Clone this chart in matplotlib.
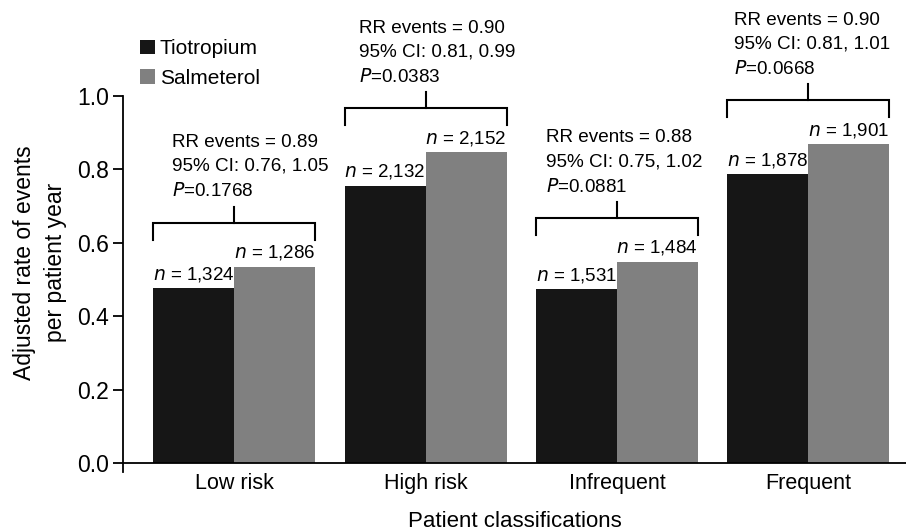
import matplotlib
matplotlib.use("Agg")
import matplotlib.pyplot as plt
import numpy as np

categories = ["Low risk", "High risk", "Infrequent", "Frequent"]
series_names = ["Tiotropium", "Salmeterol"]
tiotropium = [0.477, 0.756, 0.474, 0.787]
salmeterol = [0.535, 0.847, 0.548, 0.869]
n_tio = ["1,324", "2,132", "1,531", "1,878"]
n_sal = ["1,286", "2,152", "1,484", "1,901"]
rr = ["0.89", "0.90", "0.88", "0.90"]
ci = ["0.76, 1.05", "0.81, 0.99", "0.75, 1.02", "0.81, 1.01"]
pvals = ["0.1768", "0.0383", "0.0881", "0.0668"]
yticks = [0.0, 0.2, 0.4, 0.6, 0.8, 1.0]

# layout (not data)
text_dx = [-0.325, -0.35, -0.37, -0.39]

plt.rcParams['font.family'] = ['Liberation Sans', 'DejaVu Sans']
c_tio = "#161616"
c_sal = "#808080"

fig = plt.figure(figsize=(9.06, 5.31), dpi=100)
ax = fig.add_axes([0.136, 0.111, 0.864, 0.708])

x = np.arange(len(categories))
w = 0.423
b1 = ax.bar(x - w / 2, tiotropium, w, color=c_tio, label=series_names[0])
b2 = ax.bar(x + w / 2, salmeterol, w, color=c_sal, label=series_names[1])

ax.set_xlim(-0.58, 3.51)
ax.set_ylim(-0.025, 1.0)
ax.set_yticks(yticks)
ax.set_yticklabels([f"{v:.1f}" for v in yticks], fontsize=16.5)
ax.set_xticks(x)
ax.set_xticklabels(categories, fontsize=15.5)
ax.tick_params(axis='x', length=0, pad=1)
ax.tick_params(axis='y', length=7, width=1.3, direction='out', pad=3)
for s in ["top", "right", "bottom"]:
    ax.spines[s].set_visible(False)
ax.spines["left"].set_linewidth(1.3)
ax.axhline(0, color="black", lw=1.3, zorder=3)

ax.set_ylabel("Adjusted rate of events\nper patient year", fontsize=16.5,
              linespacing=1.42)
ax.yaxis.set_label_coords(-0.072, 0.558)
ax.set_xlabel("Patient classifications", fontsize=16)
ax.xaxis.set_label_coords(0.5, -0.103)

# n labels
for i in range(len(categories)):
    ax.text(x[i], tiotropium[i] + 0.012, f"$\\it{{n}}$ = {n_tio[i]}", ha="right",
            va="bottom", fontsize=13.5)
    ax.text(x[i] + w, salmeterol[i] + 0.012, f"$\\it{{n}}$ = {n_sal[i]}", ha="right",
            va="bottom", fontsize=13.5)

# brackets and stats
for i in range(len(categories)):
    top = max(tiotropium[i], salmeterol[i]) + 0.12
    xl, xr = x[i] - w, x[i] + w
    ax.plot([xl, xl, xr, xr], [top - 0.046, top, top, top - 0.046], color="black",
            lw=1.5, clip_on=False, solid_joinstyle="miter")
    ax.plot([x[i], x[i]], [top, top + 0.044], color="black", lw=1.5, clip_on=False)
    txt = f"RR events = {rr[i]}\n95% CI: {ci[i]}\n$\\it{{P}}$=" + pvals[i]
    ax.text(x[i] + text_dx[i], top + 0.061, txt, ha="left", va="bottom",
            fontsize=13.6, linespacing=1.52, clip_on=False)

leg = fig.legend(handles=[b1, b2], labels=series_names, loc="upper left",
                 bbox_to_anchor=(0.1545, 0.926), frameon=False, fontsize=15,
                 handlelength=0.7, handleheight=0.7, handletextpad=0.25,
                 labelspacing=0.5, borderpad=0, borderaxespad=0)

fig.savefig("out.png", dpi=100)
